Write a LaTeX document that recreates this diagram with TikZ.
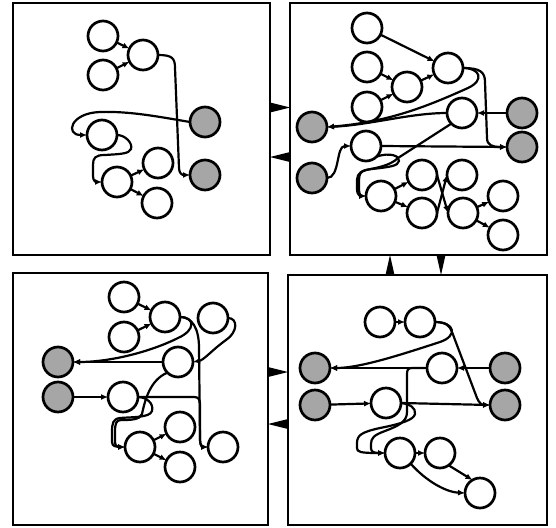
\documentclass[tikz,border=0pt]{standalone}
\usetikzlibrary{arrows.meta}
\begin{document}
\begin{tikzpicture}[x=1pt,y=-1pt,
  st/.style={circle, draw, line width=2.7pt, minimum size=30pt, inner sep=0pt, outer sep=0pt, fill=white},
  sh/.style={st, fill=black!35},
  ed/.style={line width=2.2pt, -{Latex[length=7pt,width=6pt]}},
  panel/.style={draw, line width=2.5pt, inner sep=0pt, outer sep=0pt},
  tri/.style={fill=black}]
\useasboundingbox (0,0) rectangle (556,527);
% panels
\node[panel, minimum width=257pt, minimum height=252pt] (ptl) at (141.5,129) {};
\node[panel, minimum width=257pt, minimum height=252pt] (ptr) at (418.5,129) {};
\node[panel, minimum width=255pt, minimum height=252pt] (pbl) at (140.5,399) {};
\node[panel, minimum width=259pt, minimum height=250pt] (pbr) at (417.5,400) {};
% inter-panel arrows
\fill[tri] (ptl.east |- 0,102.5) -- (ptr.west |- 0,107.5) -- (ptl.east |- 0,112.5) -- cycle;
\fill[tri] (ptr.west |- 0,152) -- (ptl.east |- 0,157) -- (ptr.west |- 0,162) -- cycle;
\fill[tri] (385.5,0 |- pbr.north) -- (390,0 |- ptr.south) -- (394.5,0 |- pbr.north) -- cycle;
\fill[tri] (436.5,0 |- ptr.south) -- (441,0 |- pbr.north) -- (445.5,0 |- ptr.south) -- cycle;
\fill[tri] (pbl.east |- 0,367) -- (pbr.west |- 0,372) -- (pbl.east |- 0,377) -- cycle;
\fill[tri] (pbr.west |- 0,419) -- (pbl.east |- 0,424) -- (pbr.west |- 0,429) -- cycle;

% ---------- top-left ----------
\node[st] (a1) at (103,36) {};
\node[st] (a2) at (103,75) {};
\node[st] (b) at (143,55) {};
\node[sh] (s1) at (205,122) {};
\node[sh] (s2) at (205,175) {};
\node[st] (c) at (102,135) {};
\node[st] (d) at (117,182) {};
\node[st] (e) at (158,163) {};
\node[st] (f) at (157,203) {};
\draw[ed] (a1) -- (b);
\draw[ed] (a2) -- (b);
\draw[ed] (b.east) .. controls (172,55) and (175,58) .. (175,68) -- (179,168) .. controls (179,173) and (182,175) .. (s2.west);
\draw[ed] (s1.west) .. controls (160,117) and (130,111) .. (100,112) .. controls (70,113) and (65,135) .. (c.west);
\draw[ed] (c.east) .. controls (125,135) and (133,143) .. (131,149) .. controls (129,154) and (120,154) .. (105,155) .. controls (95,155) and (93,158) .. (93,165) -- (93,176) .. controls (93,181) and (96,182) .. (d.west);
\draw[ed] (d) -- (e);
\draw[ed] (d) -- (f);

% ---------- top-right ----------
\node[st] (p1) at (367,28) {};
\node[st] (p2) at (367,67) {};
\node[st] (p3) at (367,107) {};
\node[st] (q) at (407,87) {};
\node[st] (r) at (448,68) {};
\node[st] (t) at (462,113) {};
\node[sh] (sl1) at (312,127) {};
\node[sh] (sl2) at (312,178) {};
\node[st] (u) at (366,146) {};
\node[sh] (sr1) at (522,113) {};
\node[sh] (sr2) at (522,147) {};
\node[st] (v) at (381,196) {};
\node[st] (w1) at (422,175) {};
\node[st] (w2) at (422,213) {};
\node[st] (x1) at (462,175) {};
\node[st] (x2) at (463,213) {};
\node[st] (y1) at (503,196) {};
\node[st] (y2) at (503,235) {};
\draw[ed] (p1) -- (r);
\draw[ed] (p2) -- (q);
\draw[ed] (p3) -- (q);
\draw[ed] (q) -- (r);
\draw[ed] (r.east) .. controls (480,68) and (485,72) .. (485,82) -- (487,138) .. controls (487,145) and (492,147) .. (sr2.west);
\draw[ed] (r.east) .. controls (480,68) and (485,80) .. (468,88) .. controls (430,105) and (390,122) .. (sl1.east);
\draw[ed] (t.west) .. controls (410,113) and (370,125) .. (sl1.east);
\draw[ed] (sr1) -- (t);
\draw[ed] (t.south west) -- (398,158) .. controls (390,166) and (375,168) .. (366,170) .. controls (361,171) and (359,174) .. (359,180) -- (359,190) .. controls (359,195) and (362,196) .. (v.west);
\draw[ed] (u.south east) .. controls (390,152) and (400,156) .. (399,161) .. controls (398,166) and (390,167) .. (372,169) .. controls (362,170) and (357,173) .. (357,180) -- (357,190) .. controls (357,195) and (361,196) .. (v.west);
\draw[ed] (sl2.east) .. controls (340,178) and (336,146) .. (u.west);
\draw[ed] (u.east) -- (sr2.west);
\draw[ed] (v) -- (w1);
\draw[ed] (v) -- (w2);
\draw[ed] (w1.east) -- (x2.west);
\draw[ed] (w2.east) -- (x1.west);
\draw[ed] (x2) -- (y1);
\draw[ed] (x2) -- (y2);

% ---------- bottom-left ----------
\node[st] (g1) at (124,297) {};
\node[st] (g2) at (124,337) {};
\node[st] (h) at (165,317) {};
\node[st] (k) at (213,318) {};
\node[st] (l) at (178,362) {};
\node[sh] (bs1) at (58,362) {};
\node[sh] (bs2) at (58,397) {};
\node[st] (m) at (123,397) {};
\node[st] (n) at (140,447) {};
\node[st] (o1) at (180,427) {};
\node[st] (o2) at (180,467) {};
\node[st] (z) at (223,447) {};
\draw[ed] (g1) -- (h);
\draw[ed] (g2) -- (h);
\draw[ed] (h.east) .. controls (192,317) and (199,328) .. (199,348) -- (200,440) .. controls (200,446) and (203,447) .. (z.west);
\draw[ed] (h.east) .. controls (195,317) and (196,330) .. (178,338) .. controls (150,352) and (110,362) .. (bs1.east);
\draw[ed] (k.east) .. controls (238,318) and (238,332) .. (226,340) .. controls (212,350) and (204,360) .. (l.east);
\draw[ed] (l.west) -- (bs1.east);
\draw[ed] (bs2) -- (m);
\draw[ed] (m.east) -- (194,397) .. controls (198,397) and (200,399) .. (200,404) -- (200,440) .. controls (200,446) and (203,447) .. (z.west);
\draw[ed] (l.south west) .. controls (150,380) and (145,400) .. (142,414) .. controls (140,420) and (130,420) .. (121,420) .. controls (116,420) and (115,424) .. (115,432) -- (115,442) .. controls (115,446) and (118,447) .. (n.west);
\draw[ed] (m.east) .. controls (146,397) and (154,403) .. (152,411) .. controls (150,418) and (130,417) .. (120,418) .. controls (113,419) and (112,423) .. (112,432) -- (112,442) .. controls (112,446) and (116,447) .. (n.west);
\draw[ed] (n) -- (o1);
\draw[ed] (n) -- (o2);

% ---------- bottom-right ----------
\node[st] (i1) at (380,322) {};
\node[st] (i2) at (420,322) {};
\node[st] (j) at (442,368) {};
\node[sh] (rs1) at (315,368) {};
\node[sh] (rs2) at (315,405) {};
\node[sh] (rs3) at (505,368) {};
\node[sh] (rs4) at (505,405) {};
\node[st] (mm) at (386,403) {};
\node[st] (nn) at (400,453) {};
\node[st] (oo) at (440,453) {};
\node[st] (zz) at (480,493) {};
\draw[ed] (i1) -- (i2);
\draw[ed] (i2.east) .. controls (455,322) and (458,336) .. (440,342) .. controls (400,355) and (360,368) .. (rs1.east);
\draw[ed] (i2.east) .. controls (446,322) and (450,326) .. (452,332) -- (477,398) .. controls (479,403) and (482,405) .. (rs4.west);
\draw[ed] (j.west) -- (rs1.east);
\draw[ed] (rs3.west) -- (j.east);
\draw[ed] (rs2) -- (mm);
\draw[ed] (mm.east) -- (rs4.west);
\draw[ed] (j.west) -- (412,368) .. controls (408,368) and (407,370) .. (407,374) -- (407,412) .. controls (407,422) and (398,426) .. (385,431) .. controls (374,435) and (371,438) .. (371,444) -- (371,448) .. controls (371,452) and (374,453) .. (nn.west);
\draw[ed] (mm.east) .. controls (410,404) and (416,408) .. (415,414) .. controls (414,420) and (400,424) .. (380,428) .. controls (362,432) and (357,435) .. (357,443) -- (357,448) .. controls (357,452) and (360,453) .. (nn.west);
\draw[ed] (nn) -- (oo);
\draw[ed] (nn.south east) .. controls (425,480) and (445,492) .. (zz.west);
\draw[ed] (oo.-55) -- (zz.120);
\end{tikzpicture}
\end{document}
